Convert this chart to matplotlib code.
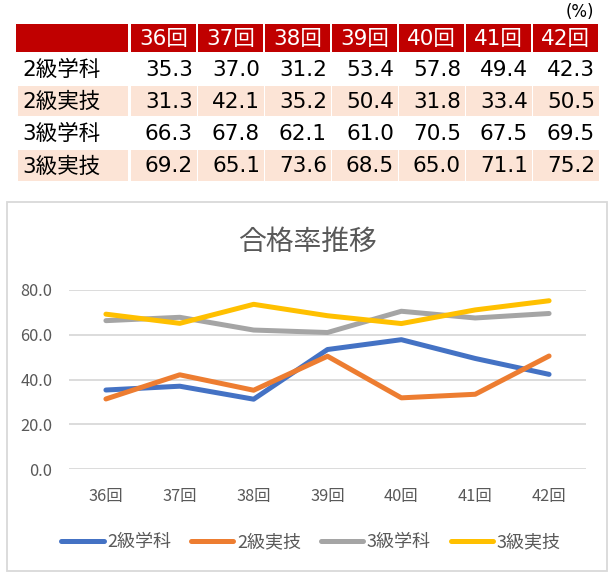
import matplotlib
matplotlib.use("Agg")
import matplotlib.pyplot as plt
from matplotlib.patches import Rectangle

# ---- data ----
sessions = ["36回", "37回", "38回", "39回", "40回", "41回", "42回"]
series_names = ["2級学科", "2級実技", "3級学科", "3級実技"]
kyu2_gakka = [35.3, 37.0, 31.2, 53.4, 57.8, 49.4, 42.3]
kyu2_jitsugi = [31.3, 42.1, 35.2, 50.4, 31.8, 33.4, 50.5]
kyu3_gakka = [66.3, 67.8, 62.1, 61.0, 70.5, 67.5, 69.5]
kyu3_jitsugi = [69.2, 65.1, 73.6, 68.5, 65.0, 71.1, 75.2]
series_values = [kyu2_gakka, kyu2_jitsugi, kyu3_gakka, kyu3_jitsugi]
yticks = [0, 20, 40, 60, 80]
title = "合格率推移"
unit_label = "(%)"

colors = ["#4472C4", "#ED7D31", "#A5A5A5", "#FFC000"]
RED = "#C00000"
PEACH = "#FCE4D6"
GRAY_TXT = "#595959"

W, H = 612, 581
fig = plt.figure(figsize=(W / 100, H / 100), dpi=100)
fig.patch.set_facecolor("white")

TFONT = ["DejaVu Sans", "Noto Sans CJK JP"]
CFONT = ["Noto Sans CJK JP", "DejaVu Sans"]

# ---- table (pixel coordinate overlay) ----
ax_t = fig.add_axes([0, 0, 1, 1])
ax_t.set_xlim(0, W)
ax_t.set_ylim(H, 0)
ax_t.axis("off")

first_x0, first_x1 = 18, 128
col_x0, col_step, col_w = 131, 67, 65
hdr_y0, hdr_h = 24, 28
row_y0, row_step, row_h = 53.5, 32.2, 30.5
fs_tab = 15.5

ax_t.add_patch(Rectangle((first_x0 - 2, hdr_y0), first_x1 - first_x0 + 2, hdr_h, color=RED, lw=0))
for i, s in enumerate(sessions):
    x0 = col_x0 + col_step * i
    ax_t.add_patch(Rectangle((x0, hdr_y0), col_w, hdr_h, color=RED, lw=0))
    ax_t.text(x0 + col_w / 2, hdr_y0 + hdr_h / 2 + 1, s, color="white", fontsize=fs_tab,
              ha="center", va="center", family=TFONT)

for r, (name, vals) in enumerate(zip(series_names, series_values)):
    y0 = row_y0 + row_step * r
    yc = y0 + row_h / 2 + 1
    if r % 2 == 1:
        ax_t.add_patch(Rectangle((first_x0, y0), first_x1 - first_x0, row_h, color=PEACH, lw=0))
        for i in range(len(sessions)):
            ax_t.add_patch(Rectangle((col_x0 + col_step * i, y0), col_w + 1, row_h, color=PEACH, lw=0))
    ax_t.text(first_x0 + 4, yc, name, color="black", fontsize=fs_tab, ha="left", va="center", family=TFONT)
    for i, v in enumerate(vals):
        x1 = col_x0 + col_step * i + col_w - 3
        ax_t.text(x1, yc, f"{v:.1f}", color="black", fontsize=fs_tab, ha="right", va="center", family=TFONT)

ax_t.text(594, 12, unit_label, fontsize=12, ha="right", va="center", family=TFONT, color="black")

# chart border
ax_t.add_patch(Rectangle((7, 202), 600, 369, fill=False, edgecolor="#D9D9D9", lw=1.3))
ax_t.text(307, 242, title, fontsize=20, ha="center", va="center", family=CFONT, color=GRAY_TXT)

# ---- line chart ----
left, right = 69 / W, 586 / W
bottom, top = (H - 469) / H, (H - 290) / H
ax = fig.add_axes([left, bottom, right - left, top - bottom])
ax.set_facecolor("none")
x = list(range(len(sessions)))
for name, vals, c in zip(series_names, series_values, colors):
    ax.plot(x, vals, color=c, lw=3.6, label=name, solid_capstyle="round", solid_joinstyle="round")
ax.set_xlim(-0.5, len(sessions) - 0.5)
ax.set_ylim(0, 80)
ax.set_yticks(yticks)
ax.set_yticklabels([f"{t:.1f}" for t in yticks])
ax.set_xticks(x)
ax.set_xticklabels(sessions)
for sp in ax.spines.values():
    sp.set_visible(False)
ax.grid(axis="y", color="#D9D9D9", lw=1.3)
ax.set_axisbelow(True)
ax.tick_params(axis="both", length=0, colors=GRAY_TXT, labelsize=11.8)
ax.tick_params(axis="y", pad=12)
ax.tick_params(axis="x", pad=14)
for lab in ax.get_xticklabels() + ax.get_yticklabels():
    lab.set_family(CFONT)

leg = fig.legend(loc="center", bbox_to_anchor=(311 / W, (H - 542) / H), ncol=4, frameon=False,
                 handlelength=2.35, handletextpad=0.2, columnspacing=1.1,
                 prop={"family": CFONT, "size": 13})
for t in leg.get_texts():
    t.set_color(GRAY_TXT)
for ln in leg.get_lines():
    ln.set_solid_capstyle("round")

fig.savefig("out.png", dpi=100, facecolor="white")
